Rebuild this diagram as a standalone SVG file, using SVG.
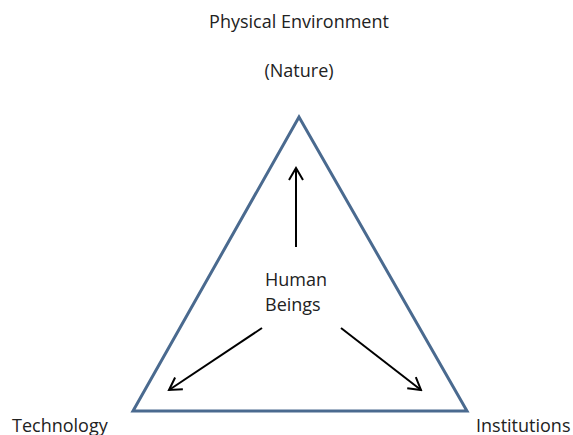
<svg xmlns="http://www.w3.org/2000/svg" width="573" height="435" viewBox="0 0 573 435">
<style>
text{font-family:"Open Sans","Liberation Sans",sans-serif;font-size:18px;fill:#222}
.ar{stroke:#000;stroke-width:2;fill:none}
</style>
<defs>
<marker id="ah" viewBox="0 0 16 16" refX="14" refY="8" markerWidth="16" markerHeight="16" markerUnits="userSpaceOnUse" orient="auto">
<path d="M2,1 L14,8 L2,15" fill="none" stroke="#000" stroke-width="2"/>
</marker>
</defs>
<rect width="573" height="435" fill="#fff"/>
<g id="triangle"><polygon points="299,117 133,411 467,411" fill="none" stroke="#4a6a8f" stroke-width="3"/></g>
<g id="nature"><text x="299" y="28" text-anchor="middle">Physical Environment</text><text x="299" y="77" text-anchor="middle">(Nature)</text></g>
<g id="human"><text x="265" y="286">Human</text><text x="265" y="311">Beings</text></g>
<g id="technology"><text x="12" y="432">Technology</text></g>
<g id="institutions"><text x="476" y="432">Institutions</text></g>
<g id="connectors">
<line class="ar" x1="296" y1="247" x2="296" y2="168" marker-end="url(#ah)"/>
<line class="ar" x1="262" y1="328" x2="169" y2="390" marker-end="url(#ah)"/>
<line class="ar" x1="341" y1="328" x2="421" y2="390" marker-end="url(#ah)"/>
</g>
</svg>
